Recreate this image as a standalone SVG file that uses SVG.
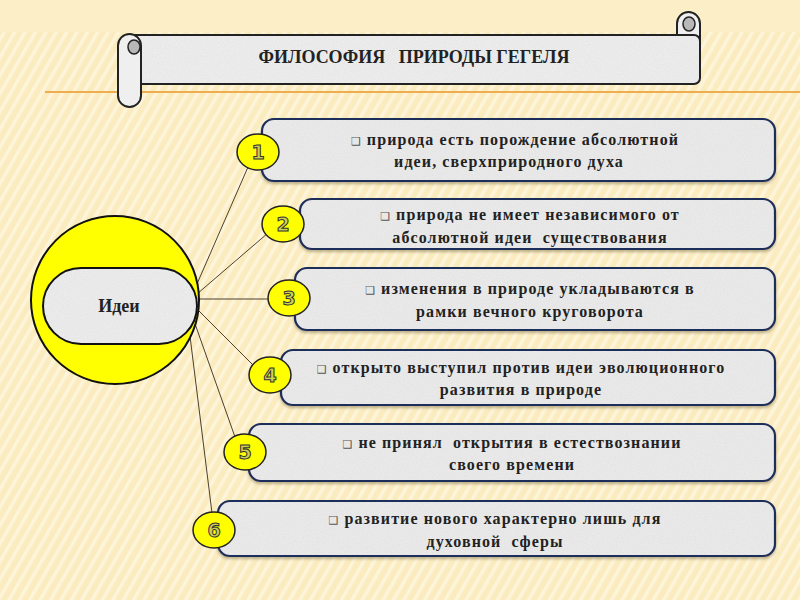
<svg xmlns="http://www.w3.org/2000/svg" width="800" height="600" viewBox="0 0 800 600">
<style>
.bf{fill:#ececec}
.bs{fill:none;stroke:#1f2d5a;stroke-width:2.2}
.num{fill:#ffff00;stroke:#222;stroke-width:1.5}
.numt{font-family:"DejaVu Sans",sans-serif;font-weight:bold;font-size:19px;fill:#d0d050;stroke:#333;stroke-width:1;text-anchor:middle}
.t{font-family:"Liberation Serif","Times New Roman","DejaVu Serif",serif;font-weight:bold;font-size:16px;fill:#222;text-anchor:middle;letter-spacing:1.1px}
.bul{font-family:"DejaVu Sans",sans-serif;font-size:11px;fill:#555}
.conn{stroke:#4a4030;stroke-width:1;fill:none}
.ser{font-family:"Liberation Serif","Times New Roman","DejaVu Serif",serif;font-weight:bold;fill:#222;text-anchor:middle}
</style>
<defs>
<pattern id="stripes" patternUnits="userSpaceOnUse" width="9" height="9" patternTransform="rotate(30)">
<rect width="9" height="9" fill="#fbecc0"/>
<rect width="3.5" height="9" fill="#fdf4da"/>
</pattern>
<filter id="grain" x="0" y="0" width="100%" height="100%">
<feTurbulence type="fractalNoise" baseFrequency="0.9" numOctaves="2" seed="3" result="n"/>
<feColorMatrix in="n" type="matrix" values="0 0 0 0 0.55  0 0 0 0 0.55  0 0 0 0 0.55  0 0 0 0.35 -0.05" result="g"/>
<feComposite in="g" in2="SourceGraphic" operator="in" result="gi"/>
<feMerge><feMergeNode in="SourceGraphic"/><feMergeNode in="gi"/></feMerge>
</filter>
<filter id="sh" x="-5%" y="-10%" width="110%" height="130%">
<feDropShadow dx="0" dy="2" stdDeviation="1.5" flood-color="#7a6a40" flood-opacity="0.5"/>
</filter>
</defs>
<rect width="800" height="600" fill="url(#stripes)"/>
<rect width="800" height="32" fill="#fcefc8"/>
<line x1="45" y1="92" x2="800" y2="92" stroke="#eeae50" stroke-width="2"/>

<g id="title">
<rect x="677" y="12" width="23" height="44" rx="11.5" fill="#efefef" stroke="#222" stroke-width="2"/>
<ellipse cx="689" cy="24" rx="6" ry="7" fill="#b8b8b8" stroke="#222" stroke-width="1.5"/>
<rect x="128" y="35" width="572" height="49" rx="6" fill="#efefef" filter="url(#grain)"/>
<rect x="128" y="35" width="572" height="49" rx="6" fill="none" stroke="#222" stroke-width="2"/>
<rect x="118" y="34" width="23" height="73" rx="11.5" fill="#efefef" stroke="#222" stroke-width="2"/>
<ellipse cx="134" cy="47" rx="6" ry="7" fill="#b8b8b8" stroke="#222" stroke-width="1.5"/>
<text class="ser" x="414" y="63" font-size="18" xml:space="preserve">ФИЛОСОФИЯ   ПРИРОДЫ ГЕГЕЛЯ</text>
</g>

<g id="connectors">
<line class="conn" x1="190" y1="300" x2="248" y2="167"/>
<line class="conn" x1="190" y1="300" x2="268" y2="233"/>
<line class="conn" x1="190" y1="299" x2="270" y2="299"/>
<line class="conn" x1="190" y1="302" x2="254" y2="366"/>
<line class="conn" x1="188" y1="304" x2="235" y2="437"/>
<line class="conn" x1="186" y1="304" x2="212" y2="513"/>
</g>

<g id="ideas">
<circle cx="115" cy="300" r="84" fill="#ffff00" stroke="#111" stroke-width="2"/>
<rect x="43" y="268" width="154" height="76" rx="38" fill="#eeeeee" filter="url(#grain)"/>
<rect x="43" y="268" width="154" height="76" rx="38" fill="none" stroke="#111" stroke-width="2"/>
<text class="ser" x="119" y="312" font-size="18">Идеи</text>
</g>

<g id="item1">
<g filter="url(#sh)"><rect class="bf" x="262" y="119" width="513" height="62" rx="12" filter="url(#grain)"/><rect class="bs" x="262" y="119" width="513" height="62" rx="12"/></g>
<ellipse class="num" cx="258" cy="152" rx="21" ry="18"/>
<text class="numt" x="258" y="159">1</text>
<text class="t" x="515" y="145"><tspan class="bul">❑ </tspan>природа есть порождение абсолютной</text>
<text class="t" x="509" y="167">идеи, сверхприродного духа</text>
</g>

<g id="item2">
<g filter="url(#sh)"><rect class="bf" x="300" y="199" width="475" height="50" rx="12" filter="url(#grain)"/><rect class="bs" x="300" y="199" width="475" height="50" rx="12"/></g>
<ellipse class="num" cx="283" cy="224" rx="21" ry="18"/>
<text class="numt" x="283" y="231">2</text>
<text class="t" x="530" y="220"><tspan class="bul">❑ </tspan>природа не имеет независимого от</text>
<text class="t" x="530" y="243" xml:space="preserve">абсолютной идеи  существования</text>
</g>

<g id="item3">
<g filter="url(#sh)"><rect class="bf" x="295" y="268" width="480" height="62" rx="12" filter="url(#grain)"/><rect class="bs" x="295" y="268" width="480" height="62" rx="12"/></g>
<ellipse class="num" cx="289" cy="298" rx="21" ry="18"/>
<text class="numt" x="289" y="305">3</text>
<text class="t" x="530" y="294"><tspan class="bul">❑ </tspan>изменения в природе укладываются в</text>
<text class="t" x="530" y="317">рамки вечного круговорота</text>
</g>

<g id="item4">
<g filter="url(#sh)"><rect class="bf" x="281" y="350" width="494" height="55" rx="12" filter="url(#grain)"/><rect class="bs" x="281" y="350" width="494" height="55" rx="12"/></g>
<ellipse class="num" cx="270" cy="375" rx="21" ry="18"/>
<text class="numt" x="270" y="382">4</text>
<text class="t" x="521" y="373"><tspan class="bul">❑ </tspan>открыто выступил против идеи эволюционного</text>
<text class="t" x="521" y="395">развития в природе</text>
</g>

<g id="item5">
<g filter="url(#sh)"><rect class="bf" x="249" y="424" width="526" height="57" rx="12" filter="url(#grain)"/><rect class="bs" x="249" y="424" width="526" height="57" rx="12"/></g>
<ellipse class="num" cx="245" cy="452" rx="21" ry="18"/>
<text class="numt" x="245" y="459">5</text>
<text class="t" x="512" y="448" xml:space="preserve"><tspan class="bul">❑ </tspan>не принял  открытия в естествознании</text>
<text class="t" x="512" y="470">своего времени</text>
</g>

<g id="item6">
<g filter="url(#sh)"><rect class="bf" x="218" y="501" width="557" height="55" rx="12" filter="url(#grain)"/><rect class="bs" x="218" y="501" width="557" height="55" rx="12"/></g>
<ellipse class="num" cx="214" cy="530" rx="21" ry="18"/>
<text class="numt" x="214" y="537">6</text>
<text class="t" x="495" y="524"><tspan class="bul">❑ </tspan>развитие нового характерно лишь для</text>
<text class="t" x="495" y="547" xml:space="preserve">духовной  сферы</text>
</g>
</svg>
